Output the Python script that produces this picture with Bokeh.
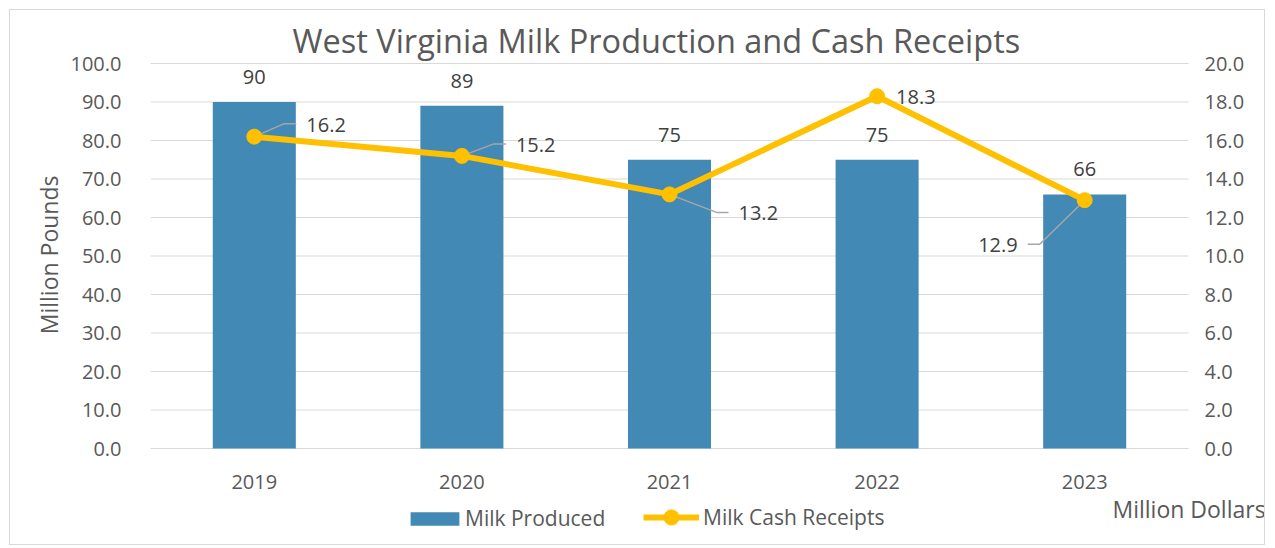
from bokeh.plotting import figure
from bokeh.models import (Range1d, LinearAxis, Legend, LegendItem, Label, ColumnDataSource,
                          FixedTicker, NumeralTickFormatter, Title)
from bokeh.embed import file_html
from bokeh.resources import INLINE
from bokeh.core.properties import value

# ---- data ----
title_text = "West Virginia Milk Production and Cash Receipts"
years = ["2019", "2020", "2021", "2022", "2023"]
milk_produced = [90, 89, 75, 75, 66]            # million pounds
cash_receipts = [16.2, 15.2, 13.2, 18.3, 12.9]  # million dollars
left_ticks = [0, 10, 20, 30, 40, 50, 60, 70, 80, 90, 100]
right_ticks = [0, 2, 4, 6, 8, 10, 12, 14, 16, 18, 20]

# receipt label placement (pixel offsets of the text from its point)
lab_dx = [52, 54, 69, 19, -67]
lab_dy = [-12, -11, 19, 1, 45]
lab_align = ["left", "left", "left", "left", "right"]
leader = [True, True, True, False, True]

FONT = "Open Sans"
TXT = "#595959"
DARK = "#404040"
BAR = "#4389B5"
GOLD = "#FFC000"
GRID = "#D9D9D9"

# geometry (canvas pixels)
W, H = 1256, 536
FL = 140
TOP_PX = 53              # canvas y of the top gridline
CAT_PX = 1038            # width of the category band
ZERO_PX = 438            # canvas y of value 0
PLOT_H = ZERO_PX - TOP_PX
lmax, rmax = left_ticks[-1], right_ticks[-1]
below = (H - ZERO_PX) / PLOT_H
above = TOP_PX / PLOT_H
n = len(years)
fw = W - FL
x_lo, x_hi = -0.5, n - 0.5

x = list(range(n))
p = figure(width=W, height=H, output_backend="svg", toolbar_location=None,
           x_range=Range1d(x_lo, x_lo + n * fw / CAT_PX),
           y_range=Range1d(-below * lmax, lmax * (1 + above)),
           x_axis_location=None,
           min_border_left=FL, min_border_right=0, min_border_top=0, min_border_bottom=0)
p.extra_y_ranges = {"right": Range1d(-below * rmax, rmax * (1 + above))}
p.outline_line_color = None
p.grid.visible = False
p.styles = {"border": "1px solid #D9D9D9", "margin": "9px 0 0 9px"}

ax = p.yaxis[0]
ax.ticker = FixedTicker(ticks=left_ticks)
ax.formatter = NumeralTickFormatter(format="0.0")
ax.axis_line_color = None
ax.major_tick_line_color = None
ax.minor_tick_line_color = None
ax.major_label_standoff = 23
ax.major_label_text_font = FONT
ax.major_label_text_font_size = "20px"
ax.major_label_text_color = TXT

ytitle = Title(text="Million Pounds", align="right", offset=112 + TOP_PX, vertical_align="middle",
               standoff=4, text_font=FONT, text_font_size="23px", text_font_style="normal",
               text_color=TXT)
p.add_layout(ytitle, "left")

rax = LinearAxis(y_range_name="right", fixed_location=x_hi, ticker=FixedTicker(ticks=right_ticks),
                 formatter=NumeralTickFormatter(format="0.0"))
rax.axis_line_color = None
rax.major_tick_line_color = None
rax.minor_tick_line_color = None
rax.major_label_standoff = 10
rax.major_label_text_font = FONT
rax.major_label_text_font_size = "20px"
rax.major_label_text_color = TXT
p.add_layout(rax, "right")

xa = LinearAxis(fixed_location=0, ticker=FixedTicker(ticks=x),
                major_label_overrides={i: y for i, y in enumerate(years)})
xa.axis_line_color = None
xa.major_tick_line_color = None
xa.minor_tick_line_color = None
xa.major_label_standoff = 20
xa.major_label_text_font = FONT
xa.major_label_text_font_size = "20px"
xa.major_label_text_color = TXT
p.add_layout(xa, "below")

# horizontal gridlines across the category band
p.segment(x0=[x_lo] * len(left_ticks), x1=[x_hi] * len(left_ticks), y0=left_ticks, y1=left_ticks,
          line_color=GRID, line_width=1, level="underlay")

src = ColumnDataSource(dict(x=x, v=milk_produced, vl=[str(v) for v in milk_produced]))
bars = p.vbar(x="x", top="v", width=0.4, source=src, fill_color=BAR, line_color=None)
p.text(x="x", y="v", text="vl", source=src, y_offset=-25, text_align="center",
       text_baseline="middle", text_font=value(FONT), text_font_size="20px", text_color=DARK)

# leader lines (pixel offsets converted through the frame scale)
px_x = n / CAT_PX
px_y = rmax / PLOT_H
lx, ly = [], []
for i, r in enumerate(cash_receipts):
    if not leader[i]:
        continue
    sgn = 1 if lab_align[i] == "left" else -1
    hs = i + (lab_dx[i] - sgn * 22) * px_x
    he = i + (lab_dx[i] - sgn * 10) * px_x
    ey = r - (lab_dy[i] - 1) * px_y
    lx.append([i, hs, he])
    ly.append([r, ey, ey])
p.multi_line(lx, ly, y_range_name="right", line_color="#A6A6A6", line_width=1.5)

line = p.line(x, cash_receipts, y_range_name="right", line_color=GOLD, line_width=6)
dots = p.scatter(x, cash_receipts, y_range_name="right", size=15, fill_color=GOLD, line_color=GOLD)

for i, r in enumerate(cash_receipts):
    p.text(x=[i], y=[r], text=[f"{r:.1f}"], y_range_name="right", x_offset=lab_dx[i],
           y_offset=lab_dy[i], text_align=lab_align[i], text_baseline="middle",
           text_font=value(FONT), text_font_size="20px", text_color=DARK)

common = dict(orientation="horizontal", border_line_color=None, background_fill_alpha=0,
              padding=0, margin=0, label_text_font=FONT, label_text_font_size="21px",
              label_text_color=TXT)
leg1 = Legend(items=[LegendItem(label="Milk Produced", renderers=[bars])],
              location=(254, 14), glyph_width=61, glyph_height=17, label_standoff=0, **common)
leg2 = Legend(items=[LegendItem(label="Milk Cash Receipts", renderers=[line, dots])],
              location=(493, 10), glyph_width=56, glyph_height=38, label_standoff=4, **common)
p.add_layout(leg1)
p.add_layout(leg2)

md = Label(x=x_hi, y=0, text="Million Dollars", x_offset=-76, y_offset=-60,
           text_align="left", text_baseline="middle", text_font=FONT,
           text_font_size="23px", text_color=TXT)
p.add_layout(md)

ttl = Label(x=x_lo, y=lmax, text=title_text, x_offset=142, y_offset=23,
            text_align="left", text_baseline="middle", text_font=FONT,
            text_font_size="32.5px", text_color=TXT)
p.add_layout(ttl)

open("out.html", "w").write(file_html(p, INLINE))
